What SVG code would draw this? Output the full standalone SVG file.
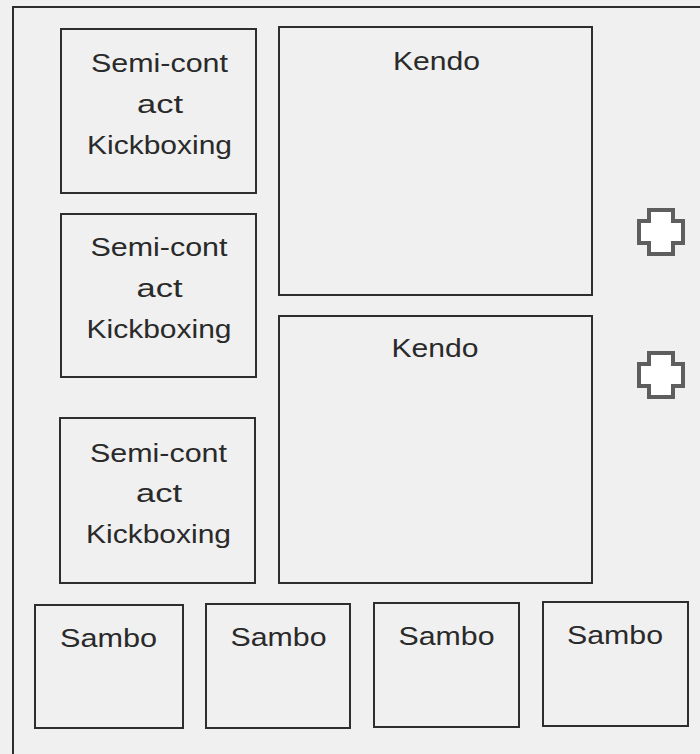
<svg xmlns="http://www.w3.org/2000/svg" width="700" height="754" viewBox="0 0 700 754">
<style>
.box{fill:none;stroke:#2e2e2e;stroke-width:2}
.lbl{font-family:"Liberation Sans",Arial,sans-serif;font-size:26px;fill:#2a2a2a;text-anchor:middle}
.cross{fill:#ffffff;stroke:#5e5e5e;stroke-width:4;stroke-linejoin:miter}
</style>
<defs>
<path id="plus" d="M-12,-22 H12 V-11 H22 V11 H12 V22 H-12 V11 H-22 V-11 H-12 Z"/>
</defs>
<rect x="0" y="0" width="700" height="754" fill="#f0f0f0"/>
<rect x="13" y="7" width="720" height="780" class="box"/>
<g id="kick1">
<rect x="61" y="29" width="195" height="164" class="box"/>
<text class="lbl"><tspan x="159.5" y="72" textLength="137" lengthAdjust="spacingAndGlyphs">Semi-cont</tspan><tspan x="160" y="113" textLength="46" lengthAdjust="spacingAndGlyphs">act</tspan><tspan x="159.5" y="154" textLength="145" lengthAdjust="spacingAndGlyphs">Kickboxing</tspan></text>
</g>
<g id="kick2">
<rect x="61" y="214" width="195" height="163" class="box"/>
<text class="lbl"><tspan x="159" y="256" textLength="137" lengthAdjust="spacingAndGlyphs">Semi-cont</tspan><tspan x="159.5" y="297" textLength="46" lengthAdjust="spacingAndGlyphs">act</tspan><tspan x="159" y="338" textLength="145" lengthAdjust="spacingAndGlyphs">Kickboxing</tspan></text>
</g>
<g id="kick3">
<rect x="60" y="418" width="195" height="165" class="box"/>
<text class="lbl"><tspan x="158.5" y="462" textLength="137" lengthAdjust="spacingAndGlyphs">Semi-cont</tspan><tspan x="159" y="502" textLength="46" lengthAdjust="spacingAndGlyphs">act</tspan><tspan x="158.5" y="543" textLength="145" lengthAdjust="spacingAndGlyphs">Kickboxing</tspan></text>
</g>
<g id="kendo1">
<rect x="279" y="27" width="313" height="268" class="box"/>
<text class="lbl" x="436.5" y="70" textLength="87" lengthAdjust="spacingAndGlyphs">Kendo</text>
</g>
<g id="kendo2">
<rect x="279" y="316" width="313" height="267" class="box"/>
<text class="lbl" x="435" y="357" textLength="87" lengthAdjust="spacingAndGlyphs">Kendo</text>
</g>
<g id="sambo1">
<rect x="35" y="605" width="148" height="123" class="box"/>
<text class="lbl" x="108.5" y="647" textLength="97" lengthAdjust="spacingAndGlyphs">Sambo</text>
</g>
<g id="sambo2">
<rect x="206" y="604" width="144" height="124" class="box"/>
<text class="lbl" x="278.5" y="646" textLength="96" lengthAdjust="spacingAndGlyphs">Sambo</text>
</g>
<g id="sambo3">
<rect x="374" y="603" width="145" height="124" class="box"/>
<text class="lbl" x="446.5" y="645" textLength="96" lengthAdjust="spacingAndGlyphs">Sambo</text>
</g>
<g id="sambo4">
<rect x="543" y="602" width="145" height="124" class="box"/>
<text class="lbl" x="615" y="644" textLength="96" lengthAdjust="spacingAndGlyphs">Sambo</text>
</g>
<g id="cross1"><use href="#plus" class="cross" transform="translate(661,232)"/></g>
<g id="cross2"><use href="#plus" class="cross" transform="translate(661,375)"/></g>
<g id="connectors"></g>
</svg>
